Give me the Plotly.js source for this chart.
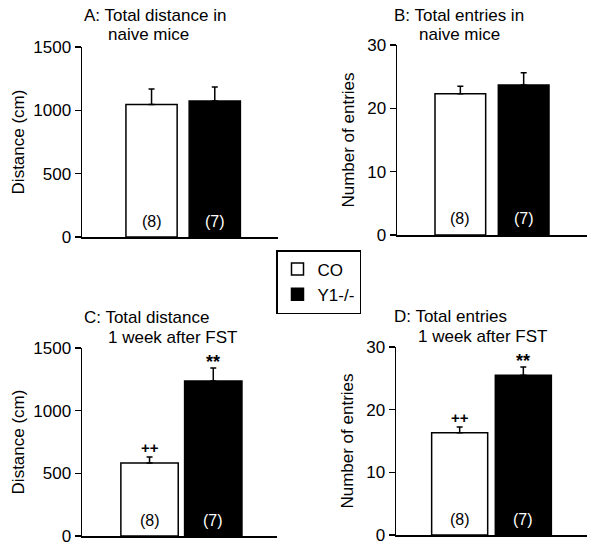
<!DOCTYPE html>
<html>
<head>
<meta charset="utf-8">
<script src="https://cdn.plot.ly/plotly-3.0.1.min.js"></script>
<style>
  html, body { margin: 0; padding: 0; background: #ffffff; }
  #chart { width: 600px; height: 548px; }
</style>
</head>
<body>
<div id="chart"></div>
<script>
// ---- data ----
const groups = ['CO', 'Y1-/-'];
const groupX = [1, 2];
const nLabels = ['(8)', '(7)'];

const distNaive = [1047, 1074];
const distNaiveSem = [121, 110];

const entriesNaive = [22.3, 23.7];
const entriesNaiveSem = [1.2, 1.9];

const distFST = [582, 1237];
const distFSTSem = [48, 103];

const entriesFST = [16.3, 25.5];
const entriesFSTSem = [0.95, 1.3];

const sigFST = ['++', '**'];

const panelTitles = [
  ['A: Total distance in', 'naive mice'],
  ['B: Total entries in', 'naive mice'],
  ['C: Total distance', '1 week after FST'],
  ['D: Total entries', '1 week after FST']
];
const yTitles = ['Distance (cm)', 'Number of entries', 'Distance (cm)', 'Number of entries'];
const distTicks = [0, 500, 1000, 1500];
const entriesTicks = [0, 10, 20, 30];

// ---- styling ----
const FONT = 'Liberation Sans, Arial, sans-serif';
const fillColors = ['#ffffff', '#000000'];
const textColors = ['#000000', '#ffffff'];
const W = 600, H = 548;

const panels = [
  {vals: distNaive, sems: distNaiveSem, ticks: distTicks, sig: null, xa: 'x', ya: 'y',
   xdom: [82, 278], ydom: [47, 237], xr: [-0.1, 3.0], bw: 0.81, standoff: 4,
   t1: [82, 16], t2: [106, 35], legend: true},
  {vals: entriesNaive, sems: entriesNaiveSem, ticks: entriesTicks, sig: null, xa: 'x2', ya: 'y2',
   xdom: [397, 587], ydom: [45, 235], xr: [0, 3.0], bw: 0.8, standoff: 8,
   t1: [392, 16], t2: [417, 35]},
  {vals: distFST, sems: distFSTSem, ticks: distTicks, sig: sigFST, xa: 'x3', ya: 'y3',
   xdom: [82, 277], ydom: [348, 536], xr: [-0.06, 3.0], bw: 0.9, standoff: 4,
   t1: [82, 317], t2: [106, 337]},
  {vals: entriesFST, sems: entriesFSTSem, ticks: entriesTicks, sig: sigFST, xa: 'x4', ya: 'y4',
   xdom: [396, 587], ydom: [347, 535], xr: [0, 3.0], bw: 0.88, standoff: 8,
   t1: [392, 316], t2: [416, 336]}
];

const traces = [];
const annotations = [];
const layout = {
  width: W, height: H,
  margin: {l: 0, r: 0, t: 0, b: 0},
  paper_bgcolor: '#ffffff',
  plot_bgcolor: '#ffffff',
  font: {family: FONT, size: 17, color: '#000000'},
  showlegend: true,
  legend: {
    x: 276 / W, xanchor: 'left', y: 1 - 250 / H, yanchor: 'top',
    bgcolor: '#ffffff', bordercolor: '#000000', borderwidth: 1.5,
    font: {family: FONT, size: 17, color: '#000000'},
    itemwidth: 30, tracegroupgap: 0
  },
  bargap: 0
};

panels.forEach((p, i) => {
  const xName = p.xa === 'x' ? 'xaxis' : 'xaxis' + p.xa.slice(1);
  const yName = p.ya === 'y' ? 'yaxis' : 'yaxis' + p.ya.slice(1);
  groups.forEach((g, k) => {
    traces.push({
      type: 'bar',
      name: g,
      x: [groupX[k]],
      y: [p.vals[k]],
      width: p.bw,
      xaxis: p.xa, yaxis: p.ya,
      showlegend: !!p.legend,
      legendgroup: g,
      marker: {color: fillColors[k], line: {color: '#000000', width: 1.5}},
      error_y: {type: 'data', symmetric: false, array: [p.sems[k]], arrayminus: [0],
                color: '#000000', thickness: 1.5, width: 3},
      hoverinfo: 'skip'
    });
    annotations.push({
      xref: p.xa, yref: p.ya + ' domain', x: groupX[k], y: 16 / 190,
      text: nLabels[k], showarrow: false, xanchor: 'center', yanchor: 'middle',
      font: {family: FONT, size: 16, color: textColors[k]}
    });
    if (p.sig) {
      const isStar = p.sig[k] === '**';
      annotations.push({
        xref: p.xa, yref: p.ya, x: groupX[k], y: p.vals[k] + p.sems[k],
        text: '<b>' + p.sig[k] + '</b>', showarrow: false, xanchor: 'center', yanchor: 'bottom',
        yshift: isStar ? -6 : -1,
        font: {family: FONT, size: isStar ? 18 : 15, color: '#000000'}
      });
    }
  });
  layout[xName] = {
    domain: [p.xdom[0] / W, p.xdom[1] / W],
    range: p.xr, showline: true, linecolor: '#000000', linewidth: 1.5,
    ticks: '', showticklabels: false, showgrid: false, zeroline: false, fixedrange: true,
    anchor: p.ya
  };
  layout[yName] = {
    domain: [1 - p.ydom[1] / H, 1 - p.ydom[0] / H],
    range: [p.ticks[0], p.ticks[p.ticks.length - 1]],
    tickvals: p.ticks, ticktext: p.ticks.map(String),
    showline: true, linecolor: '#000000', linewidth: 1.5,
    ticks: 'outside', ticklen: 6, tickwidth: 1.5, tickcolor: '#000000',
    tickfont: {family: FONT, size: 17, color: '#000000'},
    showgrid: false, zeroline: false, fixedrange: true,
    anchor: p.xa,
    title: {text: yTitles[i], font: {family: FONT, size: 17, color: '#000000'}, standoff: p.standoff}
  };
  annotations.push({
    xref: 'paper', yref: 'paper', x: p.t1[0] / W, y: 1 - p.t1[1] / H,
    text: panelTitles[i][0], showarrow: false, xanchor: 'left', yanchor: 'middle',
    font: {family: FONT, size: 17, color: '#000000'}
  });
  annotations.push({
    xref: 'paper', yref: 'paper', x: p.t2[0] / W, y: 1 - p.t2[1] / H,
    text: panelTitles[i][1], showarrow: false, xanchor: 'left', yanchor: 'middle',
    font: {family: FONT, size: 17, color: '#000000'}
  });
});

layout.annotations = annotations;

Plotly.newPlot('chart', traces, layout, {displayModeBar: false, staticPlot: true});
</script>
</body>
</html>
